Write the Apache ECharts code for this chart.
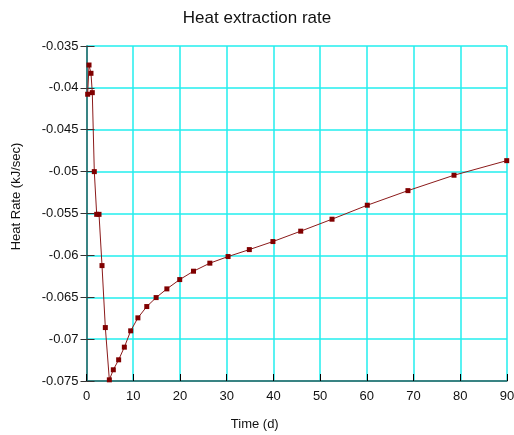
<!DOCTYPE html>
<html>
<head>
<meta charset="utf-8">
<script src="https://cdn.jsdelivr.net/npm/echarts@6/dist/echarts.min.js"></script>
<style>html,body{margin:0;padding:0;background:#fff}#c{width:514px;height:435px}</style>
</head>
<body>
<div id="c"></div>
<script>
var timeDays = [0.25, 0.54, 0.96, 1.24, 1.67, 2.18, 2.68, 3.32, 4.03, 4.89, 5.74, 6.88, 8.1, 9.46, 11.0, 12.9, 14.9, 17.2, 19.95, 22.9, 26.4, 30.3, 34.85, 39.9, 45.85, 52.55, 60.1, 68.8, 78.66, 89.94];
var heatRate = [-0.04076, -0.03727, -0.03826, -0.04057, -0.0500, -0.0551, -0.0551, -0.06122, -0.06862, -0.07486, -0.07366, -0.07247, -0.07096, -0.06901, -0.06746, -0.06611, -0.06504, -0.0640, -0.06289, -0.06189, -0.06093, -0.06014, -0.05931, -0.05835, -0.05711, -0.05568, -0.05401, -0.05227, -0.05043, -0.04869];
var titleText = 'Heat extraction rate';
var xName = 'Time (d)';
var yName = 'Heat Rate (kJ/sec)';

var pts = timeDays.map(function (t, i) { return [t, heatRate[i]]; });
var chart = echarts.init(document.getElementById('c'), null, {renderer: 'canvas'});
var font = 'Liberation Sans, Arial, sans-serif';
chart.setOption({
  animation: false,
  title: {text: titleText, left: 'center', top: 5, textStyle: {fontFamily: font, fontSize: 17, fontWeight: 'normal', color: '#111'}},
  grid: {left: 86.5, right: 7, top: 46, bottom: 54, containLabel: false, outerBoundsMode: 'none'},
  xAxis: {
    type: 'value', min: 0, max: 90, interval: 10,
    name: xName, nameLocation: 'middle', nameGap: 37,
    nameTextStyle: {fontFamily: font, fontSize: 13, color: '#111', padding: [0, 84, 0, 0]},
    axisLine: {onZero: false, lineStyle: {color: '#2f5f5f', width: 1.5}},
    axisTick: {inside: true, length: 7, lineStyle: {color: '#000'}},
    axisLabel: {fontFamily: font, fontSize: 13, color: '#111', margin: 9},
    splitLine: {show: true, lineStyle: {color: '#22eeee', width: 1.5}}
  },
  yAxis: [{
    type: 'value', min: -0.075, max: -0.035, interval: 0.005,
    name: yName, nameLocation: 'middle', nameGap: 64,
    nameTextStyle: {fontFamily: font, fontSize: 13, color: '#111', padding: [0, 0, 0, 34]},
    axisLine: {onZero: false, lineStyle: {color: '#2f5f5f', width: 1.5}},
    axisTick: {inside: false, length: 6, lineStyle: {color: '#333'}},
    axisLabel: {fontFamily: font, fontSize: 13, color: '#111', margin: 8},
    splitLine: {show: true, lineStyle: {color: '#22eeee', width: 1.5}}
  }, {
    type: 'value', min: -0.075, max: -0.035, interval: 0.005, position: 'left',
    axisLine: {show: false},
    axisTick: {inside: true, length: 8, lineStyle: {color: '#333'}},
    axisLabel: {show: false},
    splitLine: {show: false}
  }],
  series: [{
    type: 'line', data: pts, yAxisIndex: 0,
    symbol: 'rect', symbolSize: 5,
    lineStyle: {color: '#8b1a1a', width: 1},
    itemStyle: {color: '#800000'}
  }]
});
</script>
</body>
</html>
